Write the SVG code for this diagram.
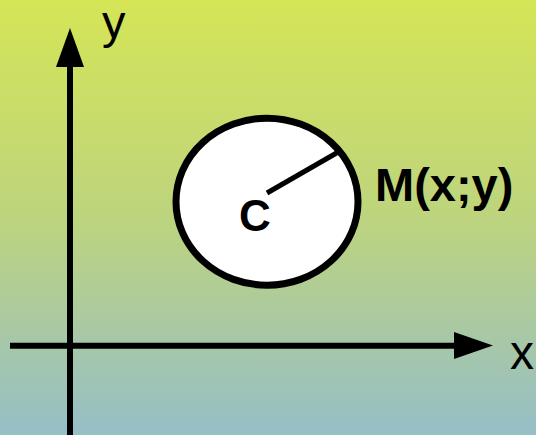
<svg xmlns="http://www.w3.org/2000/svg" width="536" height="435" viewBox="0 0 536 435">
<defs>
<linearGradient id="bg" x1="0" y1="0" x2="0" y2="1">
<stop offset="0" stop-color="#d5e556"/>
<stop offset="0.5" stop-color="#bdd47e"/>
<stop offset="1" stop-color="#96bec7"/>
</linearGradient>
</defs>
<style>
.ax{stroke:#000;stroke-width:6;fill:none}
.ah{fill:#000}
.lbl{font-family:"Liberation Sans",Arial,sans-serif;fill:#000}
.b{font-weight:bold}
</style>
<rect width="536" height="435" fill="url(#bg)"/>
<g id="connectors">
<line class="ax" x1="70" y1="435" x2="70" y2="62"/>
<polygon class="ah" points="70,28 56,67 84,67"/>
<line class="ax" x1="10" y1="345.7" x2="458" y2="345.7"/>
<polygon class="ah" points="454,332 493,345.5 454,359"/>
</g>
<g id="circle">
<ellipse cx="267" cy="201.7" rx="91" ry="83.5" fill="#fff" stroke="#000" stroke-width="7"/>
<line x1="267" y1="193" x2="340" y2="151" stroke="#000" stroke-width="5"/>
<text class="lbl b" x="239" y="231" font-size="44">C</text>
</g>
<g id="labels">
<text class="lbl" x="102" y="38" font-size="47">y</text>
<text class="lbl" x="510" y="369" font-size="48">x</text>
<text class="lbl b" x="375" y="201" font-size="47">M(x;y)</text>
</g>
</svg>
